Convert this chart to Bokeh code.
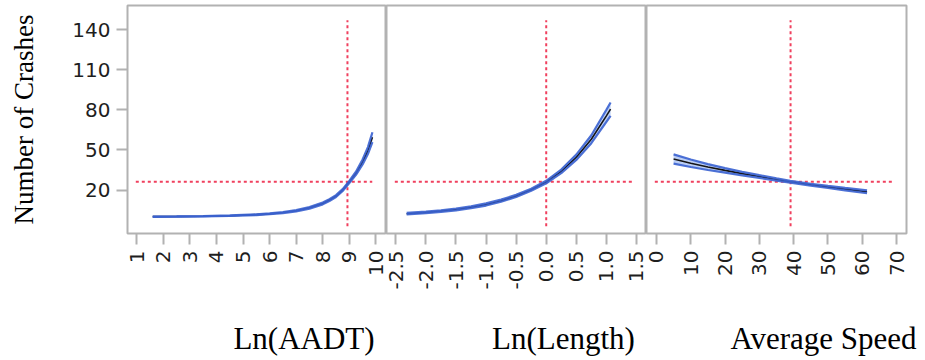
import math
from bokeh.plotting import figure
from bokeh.layouts import row, column
from bokeh.models import FixedTicker, PrintfTickFormatter, Range1d
from bokeh.core.properties import value
from bokeh.embed import file_html
from bokeh.resources import INLINE

# ---------------- data ----------------
aadt_x = [1.6, 2.5, 3.5, 4.5, 5.5, 6.0, 6.5, 7.0, 7.5, 8.0, 8.25, 8.5, 8.75, 9.0, 9.25, 9.5, 9.7, 9.87]
aadt_y = [0.1, 0.2, 0.4, 0.8, 1.6, 2.2, 3.2, 4.5, 6.7, 10.0, 12.5, 15.5, 20.0, 26.0, 32.5, 41.0, 49.5, 59.5]
aadt_lo = [0.0, 0.1, 0.3, 0.6, 1.3, 1.9, 2.8, 4.0, 6.1, 9.3, 11.8, 14.8, 19.3, 25.2, 31.3, 39.1, 46.9, 55.8]
aadt_hi = [0.2, 0.3, 0.5, 1.0, 1.9, 2.5, 3.6, 5.0, 7.3, 10.7, 13.2, 16.2, 20.7, 26.8, 33.7, 42.9, 52.1, 63.2]

length_x = [-2.32, -2.0, -1.75, -1.5, -1.25, -1.0, -0.75, -0.5, -0.25, 0.0, 0.25, 0.5, 0.75, 1.0, 1.07]
length_y = [2.3, 3.3, 4.3, 5.5, 7.1, 9.2, 12.0, 15.6, 20.2, 26.0, 34.0, 44.5, 58.0, 75.5, 80.5]
length_lo = [1.7, 2.7, 3.7, 4.8, 6.4, 8.4, 11.2, 14.8, 19.4, 25.1, 32.7, 42.5, 55.0, 71.0, 75.5]
length_hi = [2.9, 3.9, 4.9, 6.2, 7.8, 10.0, 12.8, 16.4, 21.0, 26.9, 35.3, 46.5, 61.0, 80.0, 85.5]

speed_x = [5, 10, 15, 20, 25, 30, 35, 39, 45, 50, 55, 61.4]
speed_y = [43.2, 40.0, 37.2, 34.7, 32.3, 30.1, 27.9, 26.2, 24.0, 22.3, 20.7, 18.7]
speed_lo = [39.7, 37.2, 35.0, 33.0, 31.0, 29.1, 27.1, 25.5, 23.3, 21.5, 19.8, 17.6]
speed_hi = [46.7, 42.8, 39.4, 36.4, 33.6, 31.1, 28.7, 26.9, 24.7, 23.1, 21.6, 19.8]

current_aadt = 8.93
current_length = 0.0
current_speed = 39.1
current_prediction = 26.2

y_ticks = [20, 50, 80, 110, 140]
aadt_ticks = [1, 2, 3, 4, 5, 6, 7, 8, 9, 10]
length_ticks = [-2.5, -2.0, -1.5, -1.0, -0.5, 0.0, 0.5, 1.0, 1.5]
speed_ticks = [0, 10, 20, 30, 40, 50, 60, 70]

y_title = "Number of Crashes"
x_titles = ["Ln(AADT)", "Ln(Length)", "Average Speed"]

# ---------------- styling ----------------
Y_RANGE = (-12.5, 158)
H = 300            # height of the panel row
TITLE_H = 60       # strip with the x titles
TOP = 5
BOTTOM = 67
LEFT = 127
FRAME_W = 259
RIGHT_PAD = 20
BLUE = "#3a62d0"
BAND = "#b4c9f4"
RED = "#f0405e"
GREY = "#b2b2b2"
TICK_FONT = "DejaVu Sans"
SERIF = "Liberation Serif"


def panel(xs, ys, lo, hi, xr, ticks, fmt, cur_x, first, width, left, right):
    kw = dict(width=width, height=H, x_range=Range1d(*xr), y_range=Range1d(*Y_RANGE),
              output_backend="svg", toolbar_location=None,
              min_border_left=left, min_border_right=right,
              min_border_top=TOP, min_border_bottom=BOTTOM)
    if not first:
        kw["y_axis_location"] = None
    p = figure(**kw)
    p.background_fill_color = "white"
    p.border_fill_color = "white"
    p.outline_line_color = GREY
    p.outline_line_width = 2
    p.xgrid.visible = False
    p.ygrid.visible = False

    xa = p.xaxis[0]
    xa.ticker = FixedTicker(ticks=ticks)
    if fmt:
        xa.formatter = PrintfTickFormatter(format=fmt)
    xa.major_label_orientation = math.pi / 2
    axes = [xa]
    if first:
        ya = p.yaxis[0]
        ya.ticker = FixedTicker(ticks=y_ticks)
        ya.axis_label = y_title
        ya.axis_label_text_font = SERIF
        ya.axis_label_text_font_size = "27px"
        ya.axis_label_text_font_style = "normal"
        ya.axis_label_text_color = "black"
        ya.axis_label_standoff = 30
        axes.append(ya)
    for a in axes:
        a.axis_line_color = None
        a.major_tick_line_color = GREY
        a.major_tick_line_width = 2
        a.major_tick_out = 11
        a.major_tick_in = 0
        a.minor_tick_line_color = None
        a.major_label_text_font = TICK_FONT
        a.major_label_text_font_size = "20px"
        a.major_label_text_color = "#1e1e1e"
        a.major_label_standoff = 6

    x0, x1 = xr
    y0, y1 = Y_RANGE
    w = x1 - x0
    h = y1 - y0
    # reference (cross-hair) lines
    p.segment(x0=[x0 + 0.032 * w], y0=[current_prediction], x1=[x1 - 0.055 * w], y1=[current_prediction],
              line_color=RED, line_width=2, line_dash="3 3")
    p.segment(x0=[cur_x], y0=[y0 + 0.032 * h], x1=[cur_x], y1=[y1 - 0.065 * h],
              line_color=RED, line_width=2, line_dash="3 3")

    # confidence band and prediction trace
    p.varea(x=xs, y1=lo, y2=hi, fill_color=BAND, fill_alpha=0.9)
    p.line(xs, ys, line_color="#151515", line_width=1.6)
    p.line(xs, lo, line_color=BLUE, line_width=2.2, line_alpha=0.9)
    p.line(xs, hi, line_color=BLUE, line_width=2.2, line_alpha=0.9)
    return p


W1 = LEFT + FRAME_W
W2 = 260
W3 = 260 + RIGHT_PAD - 1
p1 = panel(aadt_x, aadt_y, aadt_lo, aadt_hi, (0.65, 10.4), aadt_ticks, None, current_aadt,
           True, W1, LEFT, 0)
p2 = panel(length_x, length_y, length_lo, length_hi, (-2.655, 1.667), length_ticks, "%.1f", current_length,
           False, W2, 0, 0)
p3 = panel(speed_x, speed_y, speed_lo, speed_hi, (-2.9, 72.9), speed_ticks, None, current_speed,
           False, W3, 0, RIGHT_PAD - 1)

# strip under the panels holding the x titles (screen-pixel layout coordinates)
total_w = W1 + W2 + W3
pt = figure(width=total_w, height=TITLE_H, x_range=Range1d(0, total_w), y_range=Range1d(0, TITLE_H),
            output_backend="svg", toolbar_location=None, x_axis_location=None, y_axis_location=None,
            min_border_left=0, min_border_right=0, min_border_top=0, min_border_bottom=0)
pt.outline_line_color = None
pt.xgrid.visible = False
pt.ygrid.visible = False
frame_centers = [LEFT + FRAME_W / 2, W1 + W2 / 2, W1 + W2 + 130]
title_x = [c + 47 for c in frame_centers]
title_y = [22, 22, 22]
pt.text(x=title_x, y=title_y, text=x_titles, text_align="center", text_baseline="alphabetic",
        text_font=value(SERIF), text_font_size=value("31px"), text_color="black")

layout = column(row(p1, p2, p3), pt)
open("out.html", "w").write(file_html(layout, INLINE))
